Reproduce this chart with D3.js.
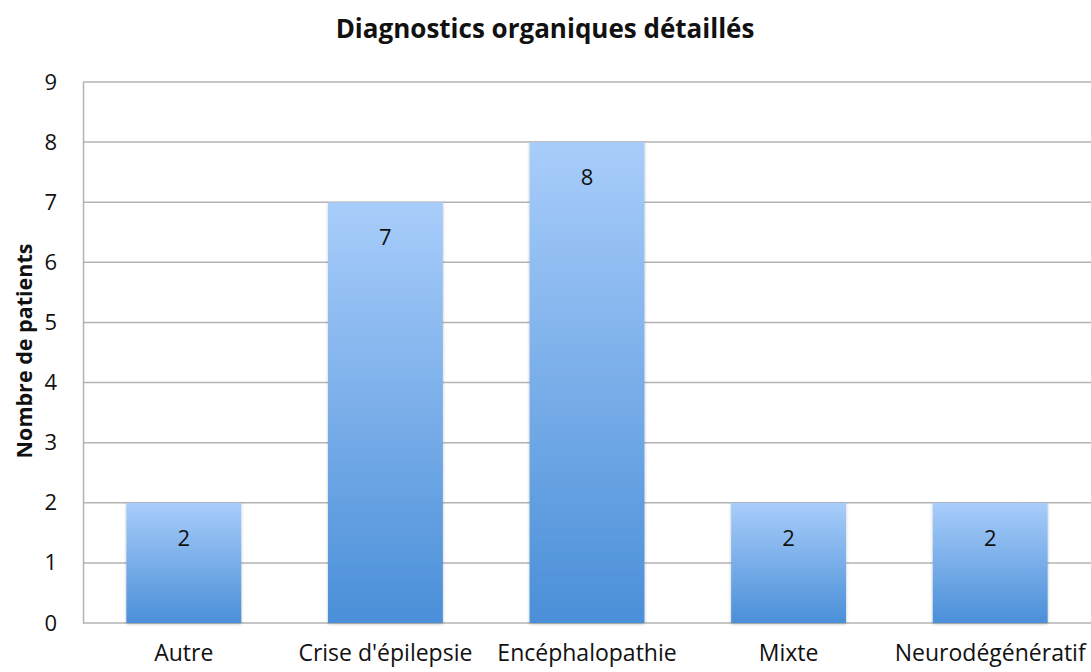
<!DOCTYPE html>
<html>
<head>
<meta charset="utf-8">
<script src="https://cdn.jsdelivr.net/npm/d3@7"></script>
<style>
  body { margin: 0; background: #fff; }
  svg { display: block; font-family: "Open Sans", sans-serif; }
</style>
</head>
<body>
<div id="chart"></div>
<script>
const categories = ["Autre", "Crise d'épilepsie", "Encéphalopathie", "Mixte", "Neurodégénératif"];
const patients = [2, 7, 8, 2, 2];
const yTicks = [0, 1, 2, 3, 4, 5, 6, 7, 8, 9];

const W = 1091, H = 672;
const margin = { top: 82, right: 0, bottom: 49, left: 83 };
const width = W - margin.left - margin.right;
const height = H - margin.top - margin.bottom;

const svg = d3.select("#chart").append("svg")
  .attr("width", W)
  .attr("height", H);

// bar gradient, light on top, darker blue at the base
const defs = svg.append("defs");
const grad = defs.append("linearGradient")
  .attr("id", "barGrad")
  .attr("x1", 0).attr("y1", 0).attr("x2", 0).attr("y2", 1);
grad.append("stop").attr("offset", "0%").attr("stop-color", "#a8cdfa");
grad.append("stop").attr("offset", "100%").attr("stop-color", "#4a8fd8");

const shadow = defs.append("filter").attr("id", "shadow")
  .attr("x", "-10%").attr("y", "-10%").attr("width", "120%").attr("height", "120%");
shadow.append("feDropShadow")
  .attr("dx", 0).attr("dy", 1).attr("stdDeviation", 1.5)
  .attr("flood-color", "#000").attr("flood-opacity", 0.25);

const g = svg.append("g").attr("transform", `translate(${margin.left},${margin.top})`);

const x = d3.scaleBand().domain(categories).range([0, width]).paddingInner(0.43).paddingOuter(0.215);
const y = d3.scaleLinear().domain([0, 9]).range([height, 0]);

// gridlines
g.append("g")
  .selectAll("line")
  .data(yTicks)
  .join("line")
  .attr("x1", 0).attr("x2", width)
  .attr("y1", d => y(d)).attr("y2", d => y(d))
  .attr("stroke", "#b3b3b3")
  .attr("stroke-width", 1.5);

// y axis
const yAxis = g.append("g")
  .call(d3.axisLeft(y).tickValues(yTicks).tickSize(0).tickPadding(26));
yAxis.select(".domain").attr("stroke", "#b3b3b3").attr("stroke-width", 1.5);
yAxis.selectAll("text").attr("font-size", 22).attr("fill", "#111").attr("font-family", "'Open Sans', sans-serif");

// bars
g.append("g")
  .selectAll("rect")
  .data(categories)
  .join("rect")
  .attr("x", d => x(d))
  .attr("y", (d, i) => y(patients[i]))
  .attr("width", x.bandwidth())
  .attr("height", (d, i) => y(0) - y(patients[i]))
  .attr("fill", "url(#barGrad)")
  .attr("filter", "url(#shadow)");

// value labels
g.append("g")
  .selectAll("text")
  .data(categories)
  .join("text")
  .attr("x", d => x(d) + x.bandwidth() / 2)
  .attr("y", (d, i) => y(patients[i]) + 34)
  .attr("text-anchor", "middle")
  .attr("dominant-baseline", "central")
  .attr("font-size", 22)
  .attr("fill", "#111")
  .text((d, i) => patients[i]);

// x axis labels
const xAxis = g.append("g")
  .attr("transform", `translate(0,${height})`)
  .call(d3.axisBottom(x).tickSize(0).tickPadding(22));
xAxis.select(".domain").remove();
xAxis.selectAll("text").attr("font-size", 23).attr("fill", "#111").attr("font-family", "'Open Sans', sans-serif");

// title
svg.append("text")
  .attr("x", 545).attr("y", 28)
  .attr("text-anchor", "middle")
  .attr("dominant-baseline", "central")
  .attr("font-size", 26)
  .attr("font-weight", "bold")
  .attr("fill", "#111")
  .text("Diagnostics organiques détaillés");

// y axis title
svg.append("text")
  .attr("transform", "translate(23,351) rotate(-90)")
  .attr("text-anchor", "middle")
  .attr("dominant-baseline", "central")
  .attr("font-size", 21.5)
  .attr("font-weight", "bold")
  .attr("fill", "#111")
  .text("Nombre de patients");
</script>
</body>
</html>
